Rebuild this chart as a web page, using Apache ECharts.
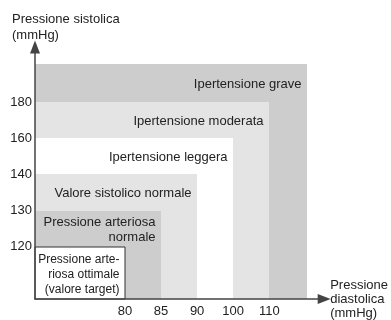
<!DOCTYPE html>
<html>
<head>
<meta charset="utf-8">
<script src="https://cdn.jsdelivr.net/npm/echarts@6/dist/echarts.min.js"></script>
<style>
  html, body { margin: 0; padding: 0; background: #fff; }
  #chart { width: 391px; height: 320px; }
</style>
</head>
<body>
<div id="chart"></div>
<script>
// Tick values (mmHg), evenly spaced along each axis
const diastolicTicks = [80, 85, 90, 100, 110];
const systolicTicks = [120, 130, 140, 160, 180];

// Classification zones, outermost first; null = open-ended
const zoneNames = [
  'Ipertensione grave',
  'Ipertensione moderata',
  'Ipertensione leggera',
  'Valore sistolico normale',
  'Pressione arteriosa\nnormale',
  'Pressione arte-\nriosa ottimale\n(valore target)'
];
const zoneDiastolic = [null, 110, 100, 90, 85, 80];
const zoneSystolic = [null, 180, 160, 140, 130, 120];
const zoneColors = ['#cdcdcd', '#e4e4e4', '#ffffff', '#e4e4e4', '#cdcdcd', '#ffffff'];

const FONT = '"Liberation Sans", Arial, Helvetica, sans-serif';
const TEXT = '#222';
const X_MIN = -2.49, X_MAX = 5.52;
const Y_MIN = -1.44, Y_MAX = 5.52;
const OPEN_EDGE = 5.04;

// Axis position of a threshold: its tick slot, or the open edge
function xPos(v) { return v == null ? OPEN_EDGE : diastolicTicks.indexOf(v); }
function yPos(v) { return v == null ? OPEN_EDGE : systolicTicks.indexOf(v); }

const chart = echarts.init(document.getElementById('chart'), null, { renderer: 'canvas' });

const axisLine = {
  onZero: false,
  symbol: ['none', 'triangle'],
  symbolSize: [10, 13],
  lineStyle: { color: '#444', width: 1.5 }
};

chart.setOption({
  animation: false,
  backgroundColor: '#fff',
  textStyle: { fontFamily: FONT },
  grid: { left: 35, right: 63, top: 47, bottom: 21 },
  xAxis: {
    type: 'value',
    min: X_MIN, max: X_MAX,
    z: 10,
    axisLine: axisLine,
    axisTick: { show: false },
    splitLine: { show: false },
    axisLabel: {
      customValues: diastolicTicks.map((_, i) => i),
      formatter: v => String(diastolicTicks[Math.round(v)]),
      margin: 6, fontSize: 13, color: TEXT, fontFamily: FONT
    },
    name: 'Pressione\ndiastolica\n(mmHg)',
    nameLocation: 'end',
    nameGap: 6,
    nameTextStyle: { align: 'left', verticalAlign: 'middle', fontSize: 13, lineHeight: 14, color: TEXT, fontFamily: FONT }
  },
  yAxis: {
    type: 'value',
    min: Y_MIN, max: Y_MAX,
    z: 10,
    axisLine: axisLine,
    axisTick: { show: false },
    splitLine: { show: false },
    axisLabel: {
      customValues: systolicTicks.map((_, i) => i),
      formatter: v => String(systolicTicks[Math.round(v)]),
      margin: 3, fontSize: 13, color: TEXT, fontFamily: FONT
    }
  },
  graphic: [{
    type: 'text',
    left: 12, top: 11,
    style: { text: 'Pressione sistolica\n(mmHg)', fontSize: 13, fontFamily: FONT, fill: TEXT, lineHeight: 16 }
  }],
  series: [{
    type: 'custom',
    coordinateSystem: 'cartesian2d',
    data: zoneNames.map((_, i) => [xPos(zoneDiastolic[i]), yPos(zoneSystolic[i]), i]),
    encode: { x: 0, y: 1 },
    renderItem: function (params, api) {
      const i = api.value(2);
      const cs = params.coordSys;
      const x0 = cs.x, yBottom = cs.y + cs.height;
      const corner = api.coord([api.value(0), api.value(1)]);
      const xr = Math.round(corner[0]), yt = Math.round(corner[1]);
      // vertical band between this zone's top and the next inner zone's top
      let yInner = yBottom;
      if (i + 1 < zoneNames.length) {
        yInner = api.coord([0, yPos(zoneSystolic[i + 1])])[1];
      }
      const isInner = i === zoneNames.length - 1;
      return {
        type: 'group',
        children: [{
          type: 'rect',
          shape: { x: x0, y: yt, width: xr - x0, height: yBottom - yt },
          style: {
            fill: zoneColors[i],
            stroke: isInner ? '#333' : null,
            lineWidth: isInner ? 1 : 0
          }
        }, {
          type: 'text',
          style: {
            text: zoneNames[i],
            x: xr - 5.5,
            y: (yt + yInner) / 2 + (isInner ? 2 : 1),
            align: 'right',
            verticalAlign: 'middle',
            fontSize: isInner ? 12 : 13,
            fontFamily: FONT,
            lineHeight: 15,
            fill: TEXT
          }
        }]
      };
    }
  }]
});
</script>
</body>
</html>
